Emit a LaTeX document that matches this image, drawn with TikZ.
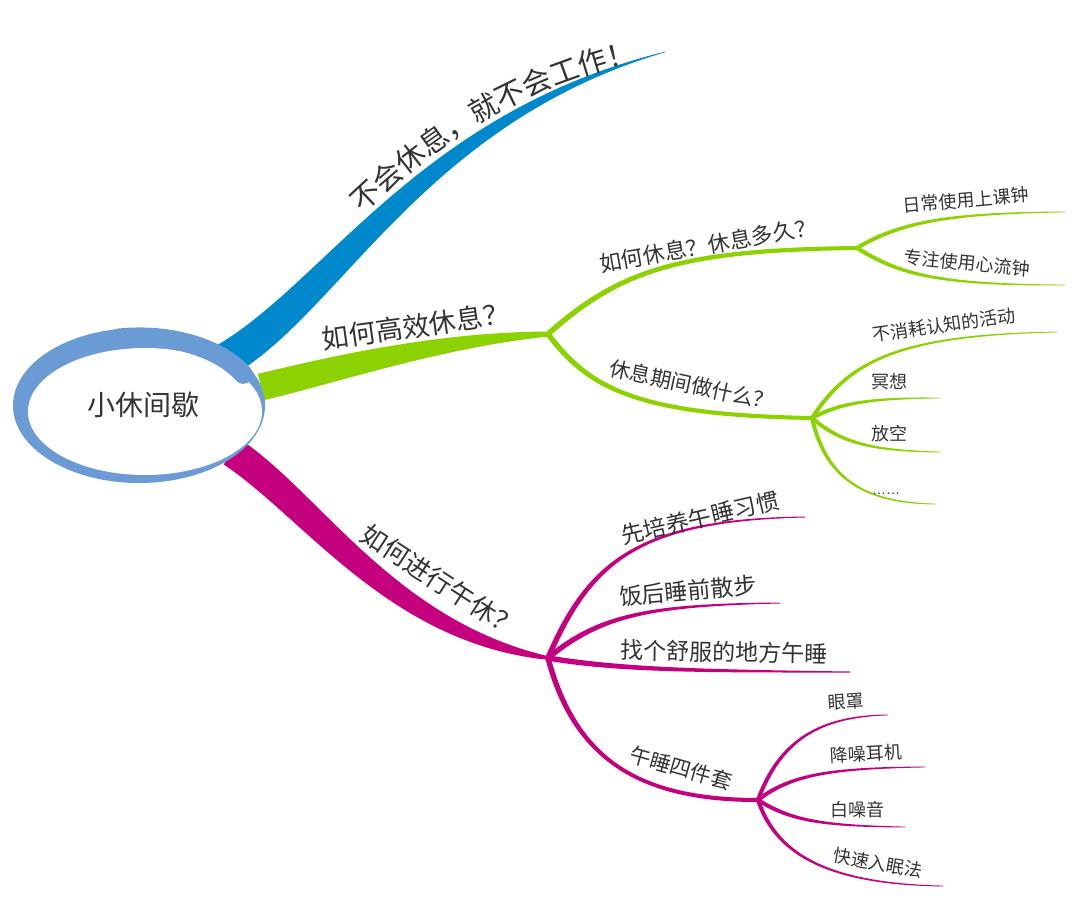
\documentclass[tikz,border=0pt]{standalone}
\usepackage{fontspec}
\setmainfont{Noto Sans CJK SC}
\newfontfamily\latinfont{Liberation Sans}
\usetikzlibrary{calc,decorations.text}
\definecolor{mmblue}{HTML}{0088CC}
\definecolor{mmgreen}{HTML}{8CD200}
\definecolor{mmmag}{HTML}{C4007F}
\definecolor{mmring}{HTML}{6A9BD4}
\definecolor{tcol}{HTML}{333333}
% tapered organic branch: colour, start, control 1, control 2, end,
% half width at start, half width near control 2, half width at end
\newcommand\mmbranch[8]{%
  \coordinate (bA) at (#2);
  \coordinate (bB) at (#3);
  \coordinate (bC) at (#4);
  \coordinate (bD) at (#5);
  \coordinate (bu0) at ($(bA)!#6!90:(bB)$);
  \coordinate (bl0) at ($(bA)!#6!-90:(bB)$);
  \coordinate (bu2) at ($(bD)!#7!-90:(bC)$);
  \coordinate (bl2) at ($(bD)!#7!90:(bC)$);
  \coordinate (bu3) at ($(bD)!#8!-90:(bC)$);
  \coordinate (bl3) at ($(bD)!#8!90:(bC)$);
  \fill[#1] (bu0) .. controls ($(bB)+(bu0)-(bA)$) and ($(bC)+(bu2)-(bD)$) .. (bu3)
     -- (bl3) .. controls ($(bC)+(bl2)-(bD)$) and ($(bB)+(bl0)-(bA)$) .. (bl0) -- cycle;
}
\begin{document}
\begin{tikzpicture}[x=1pt,y=-1pt,
  lbl/.style={text=tcol,inner sep=0pt,font=\fontsize{#1}{#1}\selectfont}]
\useasboundingbox (0,0) rectangle (1080,907);
% junctions
\coordinate (B0) at (222,362);
\coordinate (BE) at (665,52);
\coordinate (G0) at (261,387);
\coordinate (G) at (548,334);
\coordinate (GA) at (857,248);
\coordinate (GB) at (812,418);
\coordinate (M0) at (232,452);
\coordinate (M) at (548,658);
\coordinate (MB) at (758,800);
% leaf ends
\coordinate (eBell) at (1065,212);
\coordinate (eFlow) at (1065,285);
\coordinate (eNo) at (1057,332);
\coordinate (eMed) at (940,398);
\coordinate (eEmp) at (940,452);
\coordinate (eDots) at (935,504);
\coordinate (eHab) at (805,517);
\coordinate (eWalk) at (780,603);
\coordinate (ePlace) at (850,672);
\coordinate (eMask) at (888,715);
\coordinate (eEar) at (925,767);
\coordinate (eWhite) at (905,827);
\coordinate (eFast) at (943,886);

% main branches
\mmbranch{mmblue}{B0}{332,300}{420,118}{BE}{17pt}{6pt}{0.3pt}
\mmbranch{mmgreen}{G0}{340,368}{440,340}{G}{13.5pt}{8pt}{2.5pt}
\mmbranch{mmmag}{M0}{312,505}{392,632}{M}{15pt}{12pt}{1.8pt}
% green sub-branches
\mmbranch{mmgreen}{G}{620,270}{680,250}{GA}{2.7pt}{2.3pt}{2pt}
\mmbranch{mmgreen}{GA}{900,222}{950,213}{eBell}{2pt}{1.3pt}{0.4pt}
\mmbranch{mmgreen}{GA}{900,275}{940,285}{eFlow}{2pt}{1.3pt}{0.4pt}
\mmbranch{mmgreen}{G}{590,390}{640,415}{GB}{2.7pt}{2.3pt}{2pt}
\mmbranch{mmgreen}{GB}{850,360}{900,335}{eNo}{2pt}{1.3pt}{0.4pt}
\mmbranch{mmgreen}{GB}{840,403}{870,398}{eMed}{2pt}{1.3pt}{0.4pt}
\mmbranch{mmgreen}{GB}{840,442}{870,451}{eEmp}{2pt}{1.3pt}{0.4pt}
\mmbranch{mmgreen}{GB}{825,475}{860,503}{eDots}{2pt}{1.3pt}{0.4pt}
% magenta sub-branches
\mmbranch{mmmag}{M}{590,560}{640,520}{eHab}{2.7pt}{1.6pt}{0.5pt}
\mmbranch{mmmag}{M}{600,615}{650,605}{eWalk}{2.7pt}{1.6pt}{0.5pt}
\mmbranch{mmmag}{M}{620,670}{700,671}{ePlace}{2.7pt}{1.6pt}{0.5pt}
\mmbranch{mmmag}{M}{575,760}{640,800}{MB}{2.7pt}{2.3pt}{2pt}
\mmbranch{mmmag}{MB}{780,740}{820,716}{eMask}{2pt}{1.3pt}{0.4pt}
\mmbranch{mmmag}{MB}{790,775}{830,768}{eEar}{2pt}{1.3pt}{0.4pt}
\mmbranch{mmmag}{MB}{790,820}{820,826}{eWhite}{2pt}{1.3pt}{0.4pt}
\mmbranch{mmmag}{MB}{775,850}{820,884}{eFast}{2pt}{1.3pt}{0.4pt}

% central topic ring
\fill[mmring] (139,405.5) ellipse[x radius=126pt, y radius=77.5pt];
\fill[white] (145,411.5) ellipse[x radius=117pt, y radius=63.5pt];
\draw[mmring,line width=19pt,line cap=round] (118.7,338) arc[start angle=100,end angle=27,x radius=117pt,y radius=68.5pt];
\node[lbl=28] (center) at (143,405) {小休间歇};

% labels
\path[decorate,decoration={text along path,text align=center,text color=tcol,
  text={|\fontsize{29}{29}\selectfont|不会休息，就不会工作！}}]
  (351,225) .. controls (413,163) and (505,87) .. (653,58);
\node[lbl=27,rotate=8] (nEff) at (416,326) {如何高效休息？};
\node[lbl=22,rotate=10] (nHow) at (708,245) {如何休息？休息多久？};
\node[lbl=18,rotate=5] (nBell) at (966,200) {日常使用上课钟};
\node[lbl=18,rotate=-5.5] (nFlow) at (967,263) {专注使用心流钟};
\node[lbl=21,rotate=-12] (nWhat) at (692,385) {休息期间做什么？};
\node[lbl=18,rotate=8] (nNo) at (944,325) {不消耗认知的活动};
\node[lbl=18] (nMed) at (889,382) {冥想};
\node[lbl=18] (nEmp) at (889,434) {放空};
\node[text=tcol,inner sep=0pt,font=\latinfont\fontsize{14}{14}\selectfont,anchor=base west] (nDots) at (872,494) {……};
\node[lbl=26,rotate=-33] (nNap) at (440,581) {如何进行午休？};
\node[lbl=23,rotate=13] (nHab) at (700,518) {先培养午睡习惯};
\node[lbl=23,rotate=5] (nWalk) at (688,591) {饭后睡前散步};
\node[lbl=23,rotate=-1] (nPlace) at (724,652) {找个舒服的地方午睡};
\node[lbl=21,rotate=-16] (nKit) at (681,768) {午睡四件套};
\node[lbl=18,rotate=4] (nMask) at (846,702) {眼罩};
\node[lbl=18,rotate=3] (nEar) at (866,754) {降噪耳机};
\node[lbl=18] (nWhite) at (857,810) {白噪音};
\node[lbl=18,rotate=-10] (nFast) at (878,863) {快速入眠法};
\end{tikzpicture}
\end{document}
